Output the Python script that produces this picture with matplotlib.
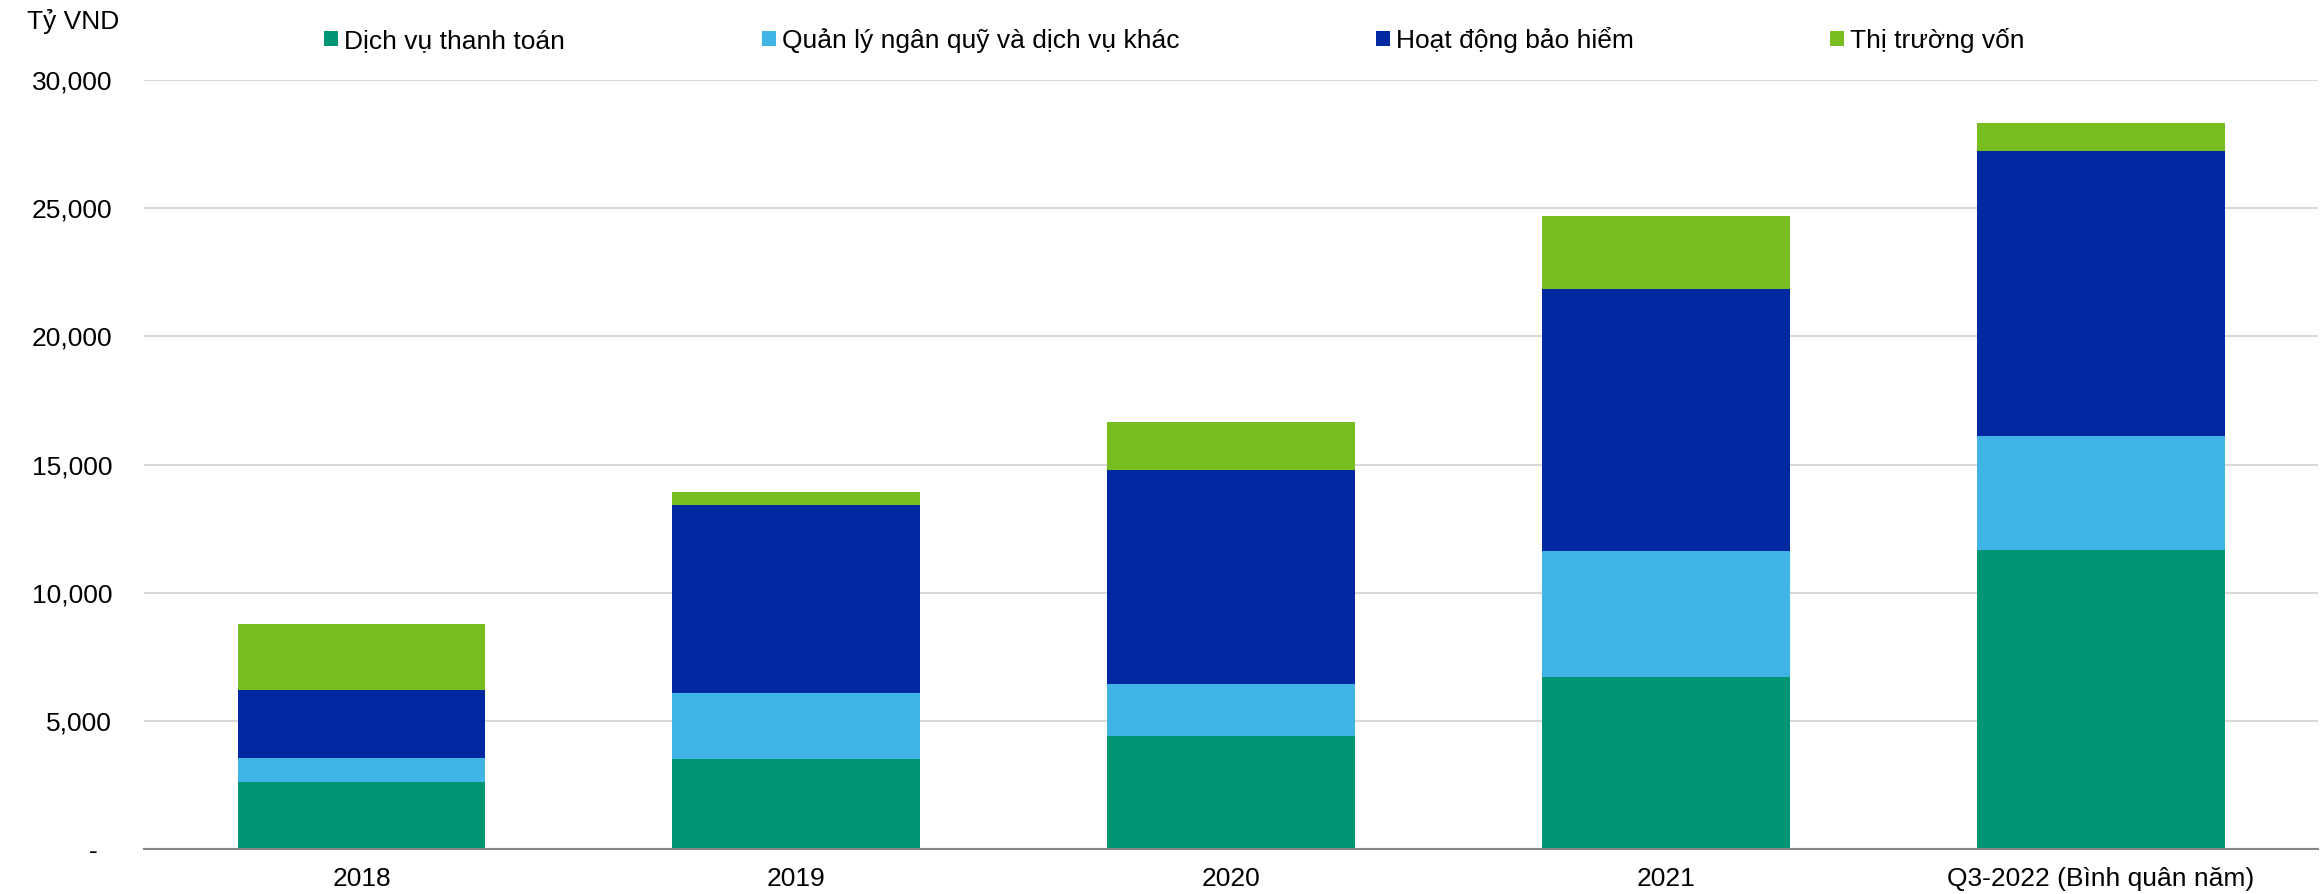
import numpy as np
import matplotlib.pyplot as plt

categories = ['2018', '2019', '2020', '2021', 'Q3-2022 (Bình quân năm)']
series_names = ['Dịch vụ thanh toán', 'Quản lý ngân quỹ và dịch vụ khác',
                'Hoạt động bảo hiểm', 'Thị trường vốn']
thanh_toan = [2600, 3530, 4390, 6710, 11680]
ngan_quy = [950, 2540, 2030, 4910, 4450]
bao_hiem = [2650, 7340, 8380, 10230, 11100]
thi_truong_von = [2570, 520, 1850, 2830, 1090]
colors = ['#009673', '#41B4E6', '#0028A0', '#78BE20']

plt.rcParams['font.family'] = ['Liberation Sans', 'DejaVu Sans']
plt.rcParams['font.size'] = 19

fig = plt.figure(figsize=(23.23, 8.94), dpi=100)
ax = fig.add_axes([0.062, 0.0503, 0.936, 0.8602])

x = np.arange(len(categories))
bottom = np.zeros(len(categories))
for name, vals, c in zip(series_names, [thanh_toan, ngan_quy, bao_hiem, thi_truong_von], colors):
    ax.bar(x, vals, 0.57, bottom=bottom, color=c, label=name, linewidth=0, zorder=3)
    bottom += np.array(vals)

ax.set_xlim(-0.5, len(categories) - 0.5)
ax.set_ylim(0, 30000)
yt = np.arange(0, 30001, 5000)
ax.set_yticks(yt)
ax.set_yticklabels(['-  ' if v == 0 else f'{v:,}' for v in yt])
ax.set_xticks(x)
ax.set_xticklabels(categories)
ax.tick_params(axis='both', length=0)
ax.tick_params(axis='y', pad=23)
ax.tick_params(axis='x', pad=13)
ax.grid(axis='y', color='#d9d9d9', linewidth=1.5, zorder=0)
for s in ['top', 'right', 'left']:
    ax.spines[s].set_visible(False)
ax.spines['bottom'].set_color('#868686')
ax.spines['bottom'].set_linewidth(1.5)
ax.spines['bottom'].set_zorder(4)

fig.text(27 / 2323, 1 - 21 / 894, 'Tỷ VND', ha='left', va='center', fontsize=19)

fig.legend(loc='center left', bbox_to_anchor=(324 / 2323, 1 - 40 / 894), ncol=4,
           frameon=False, handlelength=0.53, handleheight=0.53, handletextpad=0.23,
           columnspacing=7.45, borderpad=0, borderaxespad=0, fontsize=19)

fig.savefig('out.png', dpi=100, facecolor='white')
